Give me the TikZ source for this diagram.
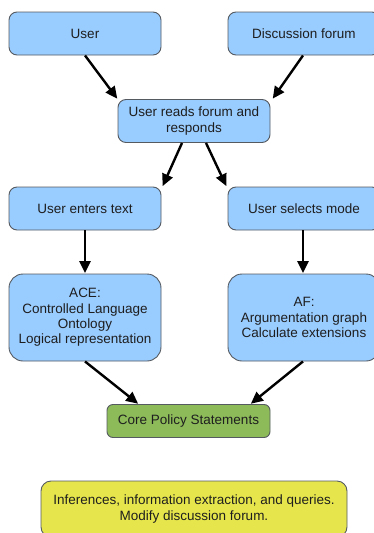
\documentclass[tikz,border=0pt]{standalone}
\usepackage{fontspec}
\setmainfont{Liberation Sans}
\usetikzlibrary{arrows.meta}
\definecolor{boxblue}{HTML}{99CCFF}
\definecolor{boxgreen}{HTML}{8DBB5A}
\definecolor{boxyellow}{HTML}{E6E64C}
\definecolor{edgegray}{HTML}{555A60}
\definecolor{txt}{HTML}{1E1E1E}
\tikzset{
  base/.style={draw=edgegray, line width=0.9pt, text=txt, align=center,
    font=\fontsize{13.5}{15.3}\selectfont, inner sep=0pt},
  bluebox/.style={base, fill=boxblue, rounded corners=8pt,
    minimum width=152pt, minimum height=43pt},
  tallbox/.style={bluebox, rounded corners=14pt, minimum height=87pt},
  greenbox/.style={base, fill=boxgreen, rounded corners=6pt,
    minimum width=163pt, minimum height=33pt},
  yellowbox/.style={base, fill=boxyellow, rounded corners=10pt,
    minimum width=306pt, minimum height=56pt},
  flow/.style={line width=2.4pt, black,
    -{Triangle[length=12pt,width=11pt]}, shorten >=0.5pt}
}
\begin{document}
\begin{tikzpicture}[x=1pt, y=-1pt]
  \useasboundingbox (0,0) rectangle (374,533);
  \clip (0,0) rectangle (374,533);

  \node[bluebox] (user)    at (85,33.5)   {User};
  \node[bluebox] (forum)   at (304,33.5)  {Discussion forum};
  \node[bluebox] (reads)   at (194,121)   {User reads forum and\\responds};
  \node[bluebox] (enters)  at (85,208.5)  {User enters text};
  \node[bluebox] (selects) at (304,208.5) {User selects mode};
  \node[tallbox] (ace)     at (85,317.5)  {ACE:\\Controlled Language\\Ontology\\Logical representation};
  \node[tallbox] (af)      at (304,317.5) {AF:\\Argumentation graph\\Calculate extensions};
  \node[greenbox] (core)   at (188.5,421) {Core Policy Statements};
  \node[yellowbox] (infer) at (194,509)   {Inferences, information extraction, and queries.\\Modify discussion forum.};

  \draw[flow] (user.south) -- (reads.north west);
  \draw[flow] ([xshift=-1pt]forum.south) -- ([xshift=2pt]reads.north east);
  \draw[flow] ([xshift=-12pt]reads.south) -- ([xshift=1pt]enters.north east);
  \draw[flow] ([xshift=12pt]reads.south) -- ([xshift=-1pt]selects.north west);
  \draw[flow] (enters.south) -- (ace.north);
  \draw[flow] ([xshift=-1pt]selects.south) -- ([xshift=-1pt]af.north);
  \draw[flow] (ace.south) -- ([xshift=32pt]core.north west);
  \draw[flow] ([xshift=-1pt]af.south) -- ([xshift=-20pt]core.north east);
\end{tikzpicture}
\end{document}
